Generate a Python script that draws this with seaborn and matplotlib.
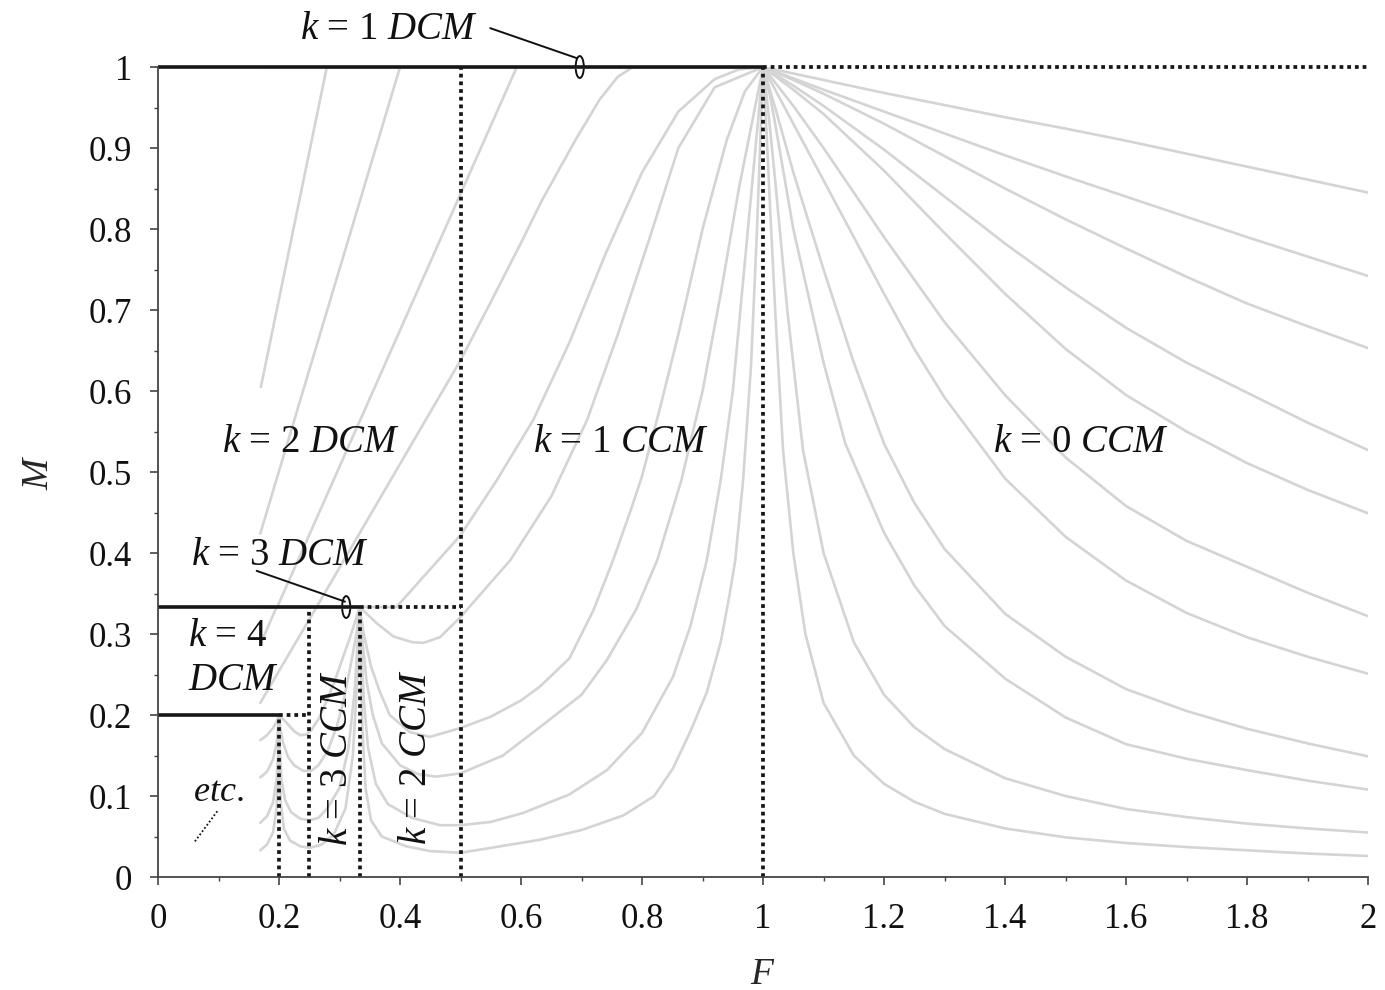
import numpy as np
import pandas as pd
import matplotlib
matplotlib.use("Agg")
import matplotlib.pyplot as plt
import seaborn as sns
from matplotlib.patches import Ellipse
from matplotlib.ticker import MultipleLocator, FuncFormatter

sns.set_theme(style="ticks")
plt.rcParams["font.family"] = ["Liberation Serif", "DejaVu Serif"]
plt.rcParams["mathtext.fontset"] = "custom"
plt.rcParams["mathtext.rm"] = "Liberation Serif"
plt.rcParams["mathtext.it"] = "Liberation Serif:italic"

# grey curves (one per load value Q)
f_q020 = [0.169, 1.0, 1.1, 1.2, 1.3, 1.4, 1.5, 1.6, 1.7, 1.8, 1.9, 2.0]
m_q020 = [1.0, 1.0, 0.984, 0.968, 0.953, 0.938, 0.924, 0.909, 0.893, 0.877, 0.861, 0.845]

f_q035 = [0.170, 0.279, 1.0, 1.05, 1.1, 1.2, 1.3, 1.4, 1.5, 1.6, 1.7, 1.8, 1.9, 2.0]
m_q035 = [0.605, 1.0, 1.0, 0.986, 0.972, 0.945, 0.918, 0.891, 0.865, 0.84, 0.815, 0.79, 0.766, 0.742]

f_q050 = [0.169, 0.4, 1.0, 1.05, 1.1, 1.2, 1.3, 1.4, 1.5, 1.6, 1.7, 1.8, 1.9, 2.0]
m_q050 = [0.424, 1.0, 1.0, 0.984, 0.967, 0.93, 0.89, 0.85, 0.812, 0.776, 0.741, 0.708, 0.68, 0.653]

f_q075 = [0.169, 0.197, 0.593, 1.0, 1.05, 1.1, 1.2, 1.3, 1.4, 1.5, 1.6, 1.7, 1.8, 1.9, 2.0]
m_q075 = [0.3333, 0.3333, 1.0, 1.0, 0.977, 0.952, 0.898, 0.84, 0.782, 0.728, 0.678, 0.635, 0.598, 0.561, 0.527]

f_q100 = [0.169, 0.262, 0.5, 0.55, 0.6, 0.635, 0.69, 0.73, 0.76, 0.785, 1.0,
          1.05, 1.1, 1.2, 1.3, 1.4, 1.5, 1.6, 1.7, 1.8, 1.9, 2.0]
m_q100 = [0.3333, 0.3333, 0.638, 0.71, 0.783, 0.836, 0.91, 0.96, 0.988, 1.0, 1.0,
          0.972, 0.942, 0.872, 0.795, 0.72, 0.652, 0.595, 0.55, 0.511, 0.478, 0.449]

f_q150 = [0.169, 0.196, 0.3333, 0.394, 0.5, 0.56, 0.62, 0.68, 0.74, 0.8, 0.86, 0.92, 0.96, 1.0,
          1.05, 1.1, 1.2, 1.3, 1.4, 1.5, 1.6, 1.7, 1.8, 1.9, 2.0]
m_q150 = [0.287, 0.3333, 0.3333, 0.3333, 0.422, 0.49, 0.564, 0.66, 0.77, 0.87, 0.945, 0.985, 0.997, 1.0,
          0.952, 0.9, 0.79, 0.685, 0.595, 0.518, 0.458, 0.415, 0.383, 0.351, 0.322]

f_q200 = [0.169, 0.262, 0.3333, 0.345, 0.362, 0.389, 0.42, 0.438, 0.466, 0.5, 0.582, 0.65,
          0.709, 0.76, 0.813, 0.86, 0.92, 1.0, 1.02, 1.05, 1.1, 1.15, 1.2, 1.25, 1.3, 1.4,
          1.5, 1.6, 1.7, 1.8, 1.9, 2.0]
m_q200 = [0.215, 0.3333, 0.3333, 0.325, 0.313, 0.297, 0.29, 0.289, 0.296, 0.321, 0.391, 0.47,
          0.564, 0.67, 0.79, 0.9, 0.975, 1.0, 0.972, 0.93, 0.86, 0.79, 0.72, 0.652, 0.592, 0.492,
          0.42, 0.366, 0.326, 0.296, 0.272, 0.251]

f_q350 = [0.169, 0.18, 0.19, 0.197, 0.2, 0.213, 0.225, 0.235, 0.245, 0.253, 0.266, 0.279, 0.293,
          0.306, 0.318, 0.328, 0.3333, 0.34, 0.352, 0.366, 0.383, 0.416, 0.449, 0.5, 0.55, 0.6,
          0.631, 0.68, 0.72, 0.752, 0.78, 0.8, 0.83, 0.86, 0.9, 0.94, 0.97, 1.0,
          1.02, 1.05, 1.1, 1.15, 1.2, 1.25, 1.3, 1.4, 1.5, 1.6, 1.7, 1.8, 1.9, 2.0]
m_q350 = [0.169, 0.175, 0.184, 0.193, 0.2, 0.19, 0.18, 0.175, 0.176, 0.181, 0.196, 0.218, 0.244,
          0.272, 0.297, 0.321, 0.3333, 0.30, 0.26, 0.23, 0.2, 0.179, 0.173, 0.184, 0.198, 0.218,
          0.235, 0.27, 0.33, 0.391, 0.45, 0.495, 0.58, 0.67, 0.8, 0.91, 0.97, 1.0,
          0.95, 0.87, 0.75, 0.635, 0.535, 0.462, 0.405, 0.325, 0.272, 0.232, 0.205, 0.183, 0.165, 0.149]

f_q500 = [0.169, 0.18, 0.19, 0.196, 0.2, 0.203, 0.207, 0.215, 0.225, 0.24, 0.253, 0.265, 0.28,
          0.295, 0.306, 0.318, 0.328, 0.3333, 0.338, 0.345, 0.355, 0.37, 0.4, 0.43, 0.46, 0.5,
          0.57, 0.631, 0.7, 0.742, 0.79, 0.825, 0.865, 0.9, 0.93, 0.96, 1.0,
          1.01, 1.02, 1.05, 1.1, 1.136, 1.2, 1.25, 1.3, 1.4, 1.5, 1.6, 1.7, 1.8, 1.9, 2.0]
m_q500 = [0.123, 0.13, 0.145, 0.165, 0.2, 0.18, 0.165, 0.148, 0.138, 0.131, 0.131, 0.138, 0.155,
          0.185, 0.215, 0.26, 0.3, 0.3333, 0.29, 0.24, 0.2, 0.165, 0.138, 0.127, 0.124, 0.128,
          0.15, 0.185, 0.225, 0.268, 0.33, 0.391, 0.49, 0.6, 0.72, 0.85, 1.0,
          0.97, 0.93, 0.8, 0.635, 0.535, 0.425, 0.36, 0.31, 0.245, 0.197, 0.164, 0.146, 0.132, 0.119, 0.108]

f_q1000 = [0.169, 0.18, 0.19, 0.196, 0.199, 0.2, 0.201, 0.204, 0.21, 0.22, 0.235, 0.25, 0.265,
           0.28, 0.3, 0.315, 0.325, 0.33, 0.3333, 0.336, 0.34, 0.347, 0.36, 0.38, 0.42, 0.466,
           0.5, 0.55, 0.603, 0.68, 0.742, 0.8, 0.851, 0.88, 0.907, 0.93, 0.95, 0.97, 1.0,
           1.005, 1.01, 1.02, 1.04, 1.066, 1.1, 1.15, 1.2, 1.25, 1.3, 1.4, 1.5, 1.6, 1.7, 1.8, 1.9, 2.0]
m_q1000 = [0.067, 0.075, 0.092, 0.12, 0.16, 0.2, 0.165, 0.12, 0.095, 0.08, 0.072, 0.07, 0.073,
           0.085, 0.11, 0.16, 0.23, 0.29, 0.3333, 0.28, 0.22, 0.16, 0.115, 0.09, 0.073, 0.064,
           0.064, 0.068, 0.079, 0.102, 0.132, 0.178, 0.247, 0.31, 0.391, 0.49, 0.6, 0.76, 1.0,
           0.97, 0.935, 0.86, 0.7, 0.527, 0.4, 0.29, 0.225, 0.185, 0.158, 0.122, 0.1, 0.084, 0.074, 0.066, 0.06, 0.055]

f_q2000 = [0.169, 0.18, 0.19, 0.196, 0.199, 0.2, 0.2005, 0.203, 0.208, 0.218, 0.235, 0.25, 0.27,
           0.29, 0.31, 0.322, 0.329, 0.3333, 0.335, 0.338, 0.343, 0.352, 0.37, 0.41, 0.45, 0.5,
           0.55, 0.631, 0.7, 0.769, 0.82, 0.851, 0.88, 0.907, 0.93, 0.945, 0.954, 0.967, 0.98, 0.99, 1.0,
           1.003, 1.007, 1.012, 1.02, 1.033, 1.05, 1.07, 1.1, 1.15, 1.2, 1.25, 1.3, 1.4, 1.5, 1.6,
           1.7, 1.8, 1.9, 2.0]
m_q2000 = [0.033, 0.04, 0.055, 0.085, 0.14, 0.2, 0.15, 0.09, 0.06, 0.045, 0.038, 0.036, 0.04,
           0.052, 0.085, 0.15, 0.24, 0.3333, 0.26, 0.18, 0.11, 0.07, 0.05, 0.038, 0.032, 0.03,
           0.036, 0.046, 0.058, 0.076, 0.1, 0.134, 0.18, 0.228, 0.29, 0.35, 0.391, 0.49, 0.63, 0.8, 1.0,
           0.96, 0.9, 0.82, 0.7, 0.527, 0.4, 0.3, 0.215, 0.15, 0.115, 0.093, 0.078, 0.06, 0.049, 0.042,
           0.037, 0.033, 0.029, 0.026]

curves = {
    "0.2": (f_q020, m_q020), "0.35": (f_q035, m_q035), "0.5": (f_q050, m_q050),
    "0.75": (f_q075, m_q075), "1": (f_q100, m_q100), "1.5": (f_q150, m_q150),
    "2": (f_q200, m_q200), "3.5": (f_q350, m_q350), "5": (f_q500, m_q500),
    "10": (f_q1000, m_q1000), "20": (f_q2000, m_q2000),
}

rows = []
for q, (fs, ms) in curves.items():
    for i, (f, m) in enumerate(zip(fs, ms)):
        rows.append({"Q": q, "i": i, "F": f, "M": m})
df = pd.DataFrame(rows)

# mode boundaries
solid_f = [[0, 1], [0, 1/3], [0, 0.2]]
solid_m = [[1, 1], [1/3, 1/3], [0.2, 0.2]]
dot_f = [[1, 2], [1, 1], [0.5, 0.5], [1/3, 0.5], [1/3, 1/3], [0.25, 0.25], [0.2, 0.25], [0.2, 0.2]]
dot_m = [[1, 1], [0, 1], [0, 1], [1/3, 1/3], [0, 1/3], [0, 1/3], [0.2, 0.2], [0, 0.2]]
etc_f = [0.061, 0.0997]
etc_m = [0.044, 0.083]

fig = plt.figure(figsize=(13.85, 9.9), dpi=100)
ax = fig.add_axes([0.1141, 0.1141, 0.8737, 0.8182])

sns.lineplot(data=df, x="F", y="M", units="Q", estimator=None, sort=False,
             color="#d4d4d4", lw=1.9, ax=ax, legend=False)

for fs, ms in zip(dot_f, dot_m):
    ax.plot(fs, ms, color="#161616", lw=2.7, ls=(0, (1, 1.05)), clip_on=False,
            dash_capstyle="butt")
ax.plot(etc_f, etc_m, color="#161616", lw=1.3, ls=(0, (1, 1.2)))
for fs, ms in zip(solid_f, solid_m):
    ax.plot(fs, ms, color="#161616", lw=2.6, clip_on=False, solid_capstyle="butt")

# annotation markers
for xc, yc in [(0.697, 1.0), (0.311, 1/3)]:
    ax.add_patch(Ellipse((xc, yc), 0.0135, 0.027, fill=False, ec="#111", lw=1.4, clip_on=False))
ax.plot([0.692, 0.549], [1.011, 1.048], color="#111", lw=1.4, clip_on=False)
ax.plot([0.309, 0.163], [0.34, 0.378], color="#111", lw=1.4, clip_on=False)

fs_lab = 28
kw = dict(fontsize=fs_lab, va="center", color="#111")
ax.text(0.382, 1.046, r"$k$ = 1 $DCM$", ha="center", **kw)
ax.text(0.252, 0.536, r"$k$ = 2 $DCM$", ha="center", **kw)
ax.text(0.765, 0.536, r"$k$ = 1 $CCM$", ha="center", **kw)
ax.text(1.526, 0.536, r"$k$ = 0 $CCM$", ha="center", **kw)
ax.text(0.202, 0.397, r"$k$ = 3 $DCM$", ha="center", **kw)
ax.text(0.05, 0.297, r"$k$ = 4", ha="left", **kw)
ax.text(0.05, 0.243, r"$DCM$", ha="left", **kw)
ax.text(0.297, 0.147, r"$k$ = 3 $CCM$", ha="center", rotation=90, **kw)
ax.text(0.428, 0.148, r"$k$ = 2 $CCM$", ha="center", rotation=90, **kw)
ax.text(0.10, 0.104, r"$etc.$", ha="center", fontsize=fs_lab - 2, va="center", color="#111")

ax.set_xlim(0, 2)
ax.set_ylim(0, 1)
sns.despine(ax=ax)
for s in ["left", "bottom"]:
    ax.spines[s].set_color("#444444")
    ax.spines[s].set_linewidth(1.3)
ax.xaxis.set_major_locator(MultipleLocator(0.2))
ax.xaxis.set_minor_locator(MultipleLocator(0.1))
ax.yaxis.set_major_locator(MultipleLocator(0.1))
ax.yaxis.set_minor_locator(MultipleLocator(0.05))
fmt = FuncFormatter(lambda v, p: "%g" % round(v, 2))
ax.xaxis.set_major_formatter(fmt)
ax.yaxis.set_major_formatter(fmt)
ax.tick_params(which="major", length=5.5, width=1.2, color="#444444", labelsize=25,
               labelcolor="#111")
ax.tick_params(which="minor", length=3, width=1.0, color="#444444")
ax.tick_params(axis="x", which="major", pad=13)
ax.tick_params(axis="y", which="major", pad=13)
ax.set_xlabel(r"$F$", fontsize=27, labelpad=16)
ax.set_ylabel(r"$M$", fontsize=27, labelpad=24)

fig.savefig("out.png", dpi=100)
